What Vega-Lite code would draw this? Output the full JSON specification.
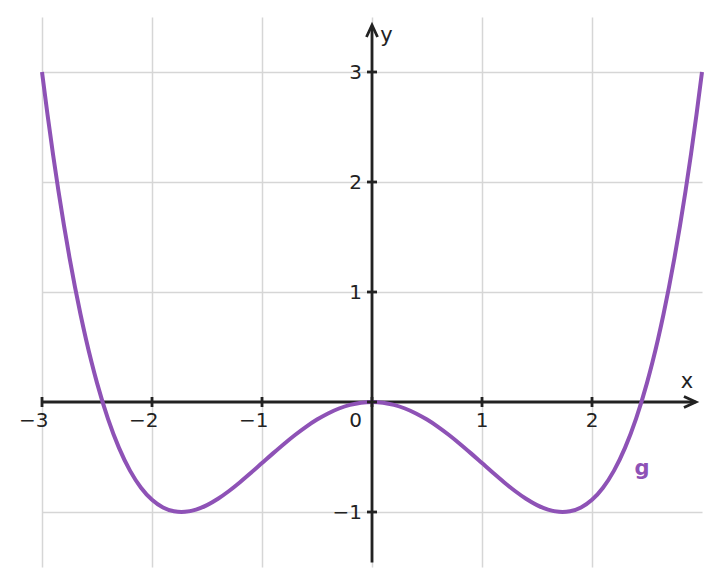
{
  "$schema": "https://vega.github.io/schema/vega-lite/v6.json",
  "width": 660,
  "height": 550,
  "autosize": {"type": "none"},
  "padding": {"left": 42, "top": 17, "right": 17, "bottom": 18},
  "background": "white",
  "config": {
    "view": {"stroke": null},
    "axis": {"grid": true, "domain": false, "ticks": false, "labels": false, "gridColor": "#d6d6d6", "gridWidth": 1.5, "titleOpacity": 0}
  },
  "encoding": {
    "x": {"field": "x", "type": "quantitative", "title": null,
      "scale": {"domain": [-3, 3], "nice": false, "zero": false},
      "axis": {"values": [-3, -2, -1, 0, 1, 2], "title": null}},
    "y": {"field": "y", "type": "quantitative", "title": null,
      "scale": {"domain": [-1.5, 3.5], "nice": false, "zero": false},
      "axis": {"values": [-1, 1, 2, 3], "title": null}}
  },
  "layer": [
    {
      "data": {"values": [{"x": -3, "x2": 2.94, "y": 0}]},
      "mark": {"type": "rule", "color": "#222222", "strokeWidth": 2.8},
      "encoding": {
        "x2": {"field": "x2"}
      }
    },
    {
      "data": {"values": [{"x": 0, "y": -1.46, "y2": 3.42}]},
      "mark": {"type": "rule", "color": "#222222", "strokeWidth": 2.8},
      "encoding": {
        "y2": {"field": "y2"}
      }
    },
    {
      "data": {"values": [
        {"x": -3.0, "y": 3.0}, {"x": -2.95, "y": 2.61317}, {"x": -2.9, "y": 2.25201}, {"x": -2.85, "y": 1.91556},
        {"x": -2.8, "y": 1.60284}, {"x": -2.75, "y": 1.31293}, {"x": -2.7, "y": 1.0449}, {"x": -2.65, "y": 0.79783},
        {"x": -2.6, "y": 0.57084}, {"x": -2.55, "y": 0.36306}, {"x": -2.5, "y": 0.17361}, {"x": -2.4, "y": -0.1536},
        {"x": -2.3, "y": -0.41732}, {"x": -2.2, "y": -0.62382}, {"x": -2.1, "y": -0.7791}, {"x": -2.0, "y": -0.88889},
        {"x": -1.9, "y": -0.95866}, {"x": -1.8, "y": -0.9936}, {"x": -1.732, "y": -1.0}, {"x": -1.7, "y": -0.99866},
        {"x": -1.6, "y": -0.97849}, {"x": -1.5, "y": -0.9375}, {"x": -1.4, "y": -0.87982}, {"x": -1.3, "y": -0.80932},
        {"x": -1.2, "y": -0.7296}, {"x": -1.1, "y": -0.64399}, {"x": -1.0, "y": -0.55556}, {"x": -0.9, "y": -0.4671},
        {"x": -0.8, "y": -0.38116}, {"x": -0.7, "y": -0.29999}, {"x": -0.6, "y": -0.2256}, {"x": -0.5, "y": -0.15972},
        {"x": -0.4, "y": -0.10382}, {"x": -0.3, "y": -0.0591}, {"x": -0.2, "y": -0.02649}, {"x": -0.1, "y": -0.00666},
        {"x": 0.0, "y": 0.0},
        {"x": 0.1, "y": -0.00666}, {"x": 0.2, "y": -0.02649}, {"x": 0.3, "y": -0.0591}, {"x": 0.4, "y": -0.10382},
        {"x": 0.5, "y": -0.15972}, {"x": 0.6, "y": -0.2256}, {"x": 0.7, "y": -0.29999}, {"x": 0.8, "y": -0.38116},
        {"x": 0.9, "y": -0.4671}, {"x": 1.0, "y": -0.55556}, {"x": 1.1, "y": -0.64399}, {"x": 1.2, "y": -0.7296},
        {"x": 1.3, "y": -0.80932}, {"x": 1.4, "y": -0.87982}, {"x": 1.5, "y": -0.9375}, {"x": 1.6, "y": -0.97849},
        {"x": 1.7, "y": -0.99866}, {"x": 1.732, "y": -1.0}, {"x": 1.8, "y": -0.9936}, {"x": 1.9, "y": -0.95866},
        {"x": 2.0, "y": -0.88889}, {"x": 2.1, "y": -0.7791}, {"x": 2.2, "y": -0.62382}, {"x": 2.3, "y": -0.41732},
        {"x": 2.4, "y": -0.1536}, {"x": 2.5, "y": 0.17361}, {"x": 2.55, "y": 0.36306}, {"x": 2.6, "y": 0.57084},
        {"x": 2.65, "y": 0.79783}, {"x": 2.7, "y": 1.0449}, {"x": 2.75, "y": 1.31293}, {"x": 2.8, "y": 1.60284},
        {"x": 2.85, "y": 1.91556}, {"x": 2.9, "y": 2.25201}, {"x": 2.95, "y": 2.61317}, {"x": 3.0, "y": 3.0}
      ]},
      "mark": {"type": "line", "color": "#8e52b6", "strokeWidth": 4, "interpolate": "monotone", "strokeCap": "butt"}
    },
    {
      "data": {"values": [{"x": -3, "y": 0}, {"x": -2, "y": 0}, {"x": -1, "y": 0}, {"x": 0, "y": 0}, {"x": 1, "y": 0}, {"x": 2, "y": 0}]},
      "mark": {"type": "tick", "orient": "vertical", "color": "#222222", "size": 10, "thickness": 2.8, "opacity": 1}
    },
    {
      "data": {"values": [{"x": 0, "y": -1}, {"x": 0, "y": 0}, {"x": 0, "y": 1}, {"x": 0, "y": 2}, {"x": 0, "y": 3}]},
      "mark": {"type": "tick", "orient": "horizontal", "color": "#222222", "size": 10, "thickness": 2.8, "opacity": 1}
    },
    {
      "data": {"values": [{"x": 2.945, "y": 0}]},
      "mark": {"type": "point", "shape": "M-1,-0.46L0,0L-1,0.46", "size": 576, "filled": false, "stroke": "#222222", "strokeWidth": 2.8, "opacity": 1, "strokeJoin": "miter"}
    },
    {
      "data": {"values": [{"x": 0, "y": 3.427}]},
      "mark": {"type": "point", "shape": "M-0.46,1L0,0L0.46,1", "size": 576, "filled": false, "stroke": "#222222", "strokeWidth": 2.8, "opacity": 1, "strokeJoin": "miter"}
    },
    {
      "data": {"values": [{"x": -3, "y": 0, "label": "−3"}, {"x": -2, "y": 0, "label": "−2"}, {"x": -1, "y": 0, "label": "−1"}]},
      "mark": {"type": "text", "font": "DejaVu Sans", "fontSize": 20, "color": "#222222", "align": "right", "baseline": "alphabetic", "dx": 6.5, "dy": 25},
      "encoding": {"text": {"field": "label"}}
    },
    {
      "data": {"values": [{"x": 1, "y": 0, "label": "1"}, {"x": 2, "y": 0, "label": "2"}]},
      "mark": {"type": "text", "font": "DejaVu Sans", "fontSize": 20, "color": "#222222", "align": "center", "baseline": "alphabetic", "dy": 25},
      "encoding": {"text": {"field": "label"}}
    },
    {
      "data": {"values": [{"x": 0, "y": 0, "label": "0"}]},
      "mark": {"type": "text", "font": "DejaVu Sans", "fontSize": 20, "color": "#222222", "align": "right", "baseline": "alphabetic", "dx": -10, "dy": 25},
      "encoding": {"text": {"field": "label"}}
    },
    {
      "data": {"values": [{"x": 0, "y": -1, "label": "−1"}, {"x": 0, "y": 1, "label": "1"}, {"x": 0, "y": 2, "label": "2"}, {"x": 0, "y": 3, "label": "3"}]},
      "mark": {"type": "text", "font": "DejaVu Sans", "fontSize": 20, "color": "#222222", "align": "right", "baseline": "alphabetic", "dx": -10, "dy": 7},
      "encoding": {"text": {"field": "label"}}
    },
    {
      "data": {"values": [{"x": 2.864, "y": 0.127, "label": "x"}]},
      "mark": {"type": "text", "font": "DejaVu Sans", "fontSize": 21, "color": "#222222", "align": "center", "baseline": "alphabetic"},
      "encoding": {"text": {"field": "label"}}
    },
    {
      "data": {"values": [{"x": 0.075, "y": 3.273, "label": "y"}]},
      "mark": {"type": "text", "font": "DejaVu Sans", "fontSize": 21, "color": "#222222", "align": "left", "baseline": "alphabetic"},
      "encoding": {"text": {"field": "label"}}
    },
    {
      "data": {"values": [{"x": 2.4545, "y": -0.6636, "label": "g"}]},
      "mark": {"type": "text", "font": "DejaVu Sans", "fontSize": 21, "fontWeight": "bold", "color": "#8e52b6", "align": "center", "baseline": "alphabetic"},
      "encoding": {"text": {"field": "label"}}
    }
  ]
}
